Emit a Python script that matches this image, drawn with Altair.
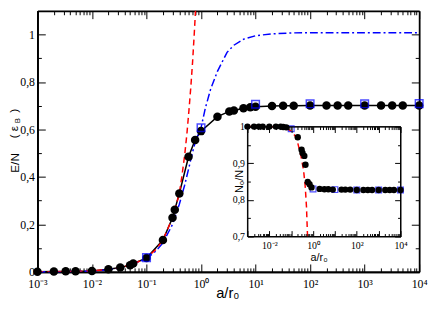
import altair as alt
import pandas as pd

# ---------------- data ----------------
# main panel: black circles (E/N)
e_x = [1e-3, 2e-3, 3.3e-3, 5e-3, 1e-2, 2e-2, 3.3e-2, 5e-2, 5.7e-2, 0.1, 0.2, 0.3, 0.33, 0.4,
       0.59, 0.78, 1.0, 2.0, 3.3, 4.0, 6.0, 8.0, 10, 20, 32, 50, 100, 200, 320, 500,
       1000, 2000, 3200, 5000, 10000]
e_y = [0.0, 0.001, 0.002, 0.002, 0.004, 0.011, 0.018, 0.028, 0.035, 0.058, 0.134, 0.228, 0.262, 0.330,
       0.485, 0.556, 0.593, 0.654, 0.676, 0.680, 0.689, 0.694, 0.696, 0.699, 0.700, 0.700, 0.701, 0.701,
       0.701, 0.701, 0.701, 0.701, 0.701, 0.701, 0.701]
# main panel: blue open squares
sq_x = [0.1, 1.0, 10, 100, 1000, 10000]
sq_y = [0.060, 0.607, 0.706, 0.708, 0.708, 0.709]
# main panel: red dashed curve
red_x = [1e-3, 3e-3, 1e-2, 2e-2, 3e-2, 5e-2, 0.07, 0.1, 0.15, 0.2, 0.3, 0.4, 0.45, 0.5, 0.55,
         0.6, 0.65, 0.7, 0.75, 0.8, 0.85]
red_y = [0.0, 0.001, 0.004, 0.010, 0.016, 0.029, 0.042, 0.060, 0.095, 0.134, 0.228, 0.330, 0.410,
         0.490, 0.580, 0.680, 0.780, 0.885, 1.000, 1.120, 1.250]
# main panel: blue dash-dot curve
blu_x = [1e-3, 3e-3, 1e-2, 2e-2, 3e-2, 5e-2, 0.1, 0.15, 0.2, 0.3, 0.4, 0.5, 0.6, 0.7, 0.8, 1.0,
         1.2, 1.5, 2, 3, 4, 6, 10, 20, 50, 100, 1000, 10000]
blu_y = [0.0, 0.001, 0.003, 0.009, 0.015, 0.027, 0.056, 0.088, 0.122, 0.200, 0.285, 0.365, 0.440,
         0.505, 0.555, 0.607, 0.690, 0.770, 0.845, 0.925, 0.955, 0.980, 0.995, 1.003, 1.007, 1.008,
         1.008, 1.008]

# inset: black circles (N0/N)
n_x = [1e-3, 2e-3, 3.3e-3, 5e-3, 1e-2, 2e-2, 3.3e-2, 4.3e-2, 6e-2, 0.2, 0.3, 0.33, 0.4, 0.45,
       0.57, 0.69, 0.85, 2.0, 3.3, 5.0, 8.0, 20, 30, 50, 100, 200, 320, 500, 1000, 2000, 3200,
       5000, 10000]
n_y = [1.0, 1.0, 1.0, 1.0, 1.0, 1.0, 1.0, 0.999, 0.998, 0.971, 0.937, 0.928, 0.920, 0.896,
       0.849, 0.843, 0.834, 0.830, 0.829, 0.829, 0.828, 0.828, 0.828, 0.828, 0.827, 0.827, 0.827,
       0.827, 0.827, 0.827, 0.827, 0.827, 0.827]
# inset: blue squares
nsq_x = [0.1, 1.0, 10, 100, 1000, 10000]
nsq_y = [0.994, 0.830, 0.828, 0.827, 0.827, 0.827]
# inset: red dashed curve
nred_x = [1e-3, 1e-2, 3e-2, 5e-2, 0.1, 0.15, 0.2, 0.28, 0.37, 0.44, 0.5, 0.56]
nred_y = [1.0, 1.0, 0.999, 0.997, 0.988, 0.975, 0.955, 0.920, 0.880, 0.836, 0.782, 0.700]

# axis ticks / labels
dec_labels = ['10\u207b\u00b3', '10\u207b\u00b2', '10\u207b\u00b9', '10\u2070',
              '10\u00b9', '10\u00b2', '10\u00b3', '10\u2074']
x_major = [1e-3, 1e-2, 1e-1, 1.0, 10.0, 100.0, 1000.0, 10000.0]
x_minor = [m * d for d in x_major[:-1] for m in range(2, 10)]
x_ticks = x_major + x_minor
y_labels = [0.0, 0.2, 0.4, 0.6, 0.8, 1.0]
y_ticks = [round(0.1 * i, 1) for i in range(0, 11)]
in_x_labels = [1e-2, 1.0, 100.0, 10000.0]
in_y_labels = [0.7, 0.8, 0.9, 1.0]
in_y_ticks = [round(0.7 + 0.05 * i, 2) for i in range(0, 7)]

# ---------------- layout ----------------
W, H = 389, 266
IX0, IX1 = 214, 370       # inset horizontal extent inside the main plot
IYB, IYT = 230, 118       # inset bottom / top

def msx():
    return alt.Scale(type="log", domain=[1e-3, 1e4], range=[0, W], nice=False)

def msy():
    return alt.Scale(domain=[0, 1.1], range=[H, 0], nice=False, zero=False)

def isx():
    return alt.Scale(type="log", domain=[1e-3, 1e4], range=[IX0, IX1], nice=False)

def isy():
    return alt.Scale(domain=[0.7, 1.0], range=[IYB, IYT], nice=False, zero=False)

LOGTEST = "abs(log(datum.value)/LN10 - round(log(datum.value)/LN10)) < 0.01"

def tsize(test, big, small):
    return {"condition": {"test": test, "value": big}, "value": small}

main_df = pd.DataFrame({"x": e_x, "y": e_y})
sq_df = pd.DataFrame({"x": sq_x, "y": sq_y})
red_df = pd.DataFrame({"x": red_x, "y": red_y})
blu_df = pd.DataFrame({"x": blu_x, "y": blu_y})
n_df = pd.DataFrame({"x": n_x, "y": n_y})
nsq_df = pd.DataFrame({"x": nsq_x, "y": nsq_y})
nred_df = pd.DataFrame({"x": nred_x, "y": nred_y})
box_df = pd.DataFrame({"x": [1e-3], "x2": [1e4], "y": [0.7], "y2": [1.0]})
dummy = pd.DataFrame({"x": [1.0], "y": [0.8]})

def enc(ch, xs, ys):
    return ch.encode(x=alt.X("x:Q", scale=xs, axis=None),
                     y=alt.Y("y:Q", scale=ys, axis=None))

layers = []
# main data
layers.append(enc(alt.Chart(main_df).mark_line(color="black", strokeWidth=1.5), msx(), msy()))
layers.append(enc(alt.Chart(blu_df).mark_line(color="#0000ff", strokeWidth=1.5,
                                              strokeDash=[8, 3, 2, 3]), msx(), msy()))
layers.append(enc(alt.Chart(red_df).mark_line(color="#ff0000", strokeWidth=1.5,
                                              strokeDash=[6, 4], clip=True), msx(), msy()))
layers.append(enc(alt.Chart(main_df).mark_circle(color="black", size=75, opacity=1), msx(), msy()))
layers.append(enc(alt.Chart(sq_df).mark_point(shape="square", filled=False, color="#0000ff",
                                              size=60, strokeWidth=1.5), msx(), msy()))
# inset background + data
layers.append(alt.Chart(box_df).mark_rect(fill="white", stroke="black", strokeWidth=1).encode(
    x=alt.X("x:Q", scale=isx(), axis=None), x2="x2:Q",
    y=alt.Y("y:Q", scale=isy(), axis=None), y2="y2:Q"))
layers.append(enc(alt.Chart(nred_df).mark_line(color="#ff0000", strokeWidth=1.5,
                                               strokeDash=[6, 4]), isx(), isy()))
layers.append(enc(alt.Chart(nsq_df).mark_point(shape="square", filled=False, color="#0000ff",
                                               size=35, strokeWidth=1.2), isx(), isy()))
layers.append(enc(alt.Chart(n_df).mark_circle(color="black", size=42, opacity=1), isx(), isy()))

def helper(xaxis, yaxis, xs, ys):
    return alt.Chart(dummy).mark_point(opacity=0).encode(
        x=alt.X("x:Q", scale=xs, axis=xaxis),
        y=alt.Y("y:Q", scale=ys, axis=yaxis))

XLAB = "[" + ",".join("'" + s + "'" for s in dec_labels) + "][round(log(datum.value)/LN10)+3]"
YLAB = "datum.value == 0 ? '0' : datum.value == 1 ? '1' : replace(format(datum.value, '.1f'), '.', ',')"

common_lab = dict(ticks=False, grid=False, labelColor="black", labelFont="Liberation Serif",
                  labelOverlap=False, labelFlush=False, domainColor="black")
common_tick = dict(labels=False, grid=False, ticks=True, tickColor="black", tickWidth=1,
                   domain=True, domainColor="black", title=None)

# main axes
layers.append(helper(
    alt.Axis(orient="bottom", values=x_major, labelExpr=XLAB, labelFontSize=12, labelPadding=7,
             domain=True, domainWidth=1.8, title=None, **common_lab),
    alt.Axis(orient="left", values=y_labels, labelExpr=YLAB, labelFontSize=12, labelPadding=3,
             domain=True, domainWidth=1.8, title=None, **common_lab),
    msx(), msy()))
layers.append(helper(
    alt.Axis(orient="top", offset=-H, values=x_ticks, tickSize=tsize(LOGTEST, 8, 4),
             domainWidth=1.8, **common_tick),
    alt.Axis(orient="right", offset=-W, values=y_ticks,
             tickSize=tsize("abs(datum.value*5 - round(datum.value*5)) < 0.01", 8, 4),
             domainWidth=1.8, **common_tick),
    msx(), msy()))
layers.append(helper(
    alt.Axis(orient="bottom", offset=-H, values=x_ticks, tickSize=tsize(LOGTEST, 8, 4),
             domainWidth=1.8, **common_tick),
    alt.Axis(orient="left", offset=-W, values=y_ticks,
             tickSize=tsize("abs(datum.value*5 - round(datum.value*5)) < 0.01", 8, 4),
             domainWidth=1.8, **common_tick),
    msx(), msy()))

# inset axes
layers.append(helper(
    alt.Axis(orient="bottom", offset=-(H - IYB), values=in_x_labels, labelExpr=XLAB,
             labelFontSize=10, labelPadding=4, domain=False, title=None, zindex=1, **common_lab),
    alt.Axis(orient="left", offset=-IX0, values=in_y_labels, labelExpr=YLAB,
             labelFontSize=10, labelPadding=3, domain=False, title=None, zindex=1, **common_lab),
    isx(), isy()))
layers.append(helper(
    alt.Axis(orient="top", offset=-IYB, values=x_ticks, tickSize=tsize(LOGTEST, 6, 3),
             domainWidth=1, zindex=1, **common_tick),
    alt.Axis(orient="right", offset=-(W - IX0), values=in_y_ticks,
             tickSize=tsize("abs(datum.value*10 - round(datum.value*10)) < 0.01", 6, 3),
             domainWidth=1, zindex=1, **common_tick),
    isx(), isy()))
layers.append(helper(
    alt.Axis(orient="bottom", offset=-(H - IYT), values=x_ticks, tickSize=tsize(LOGTEST, 6, 3),
             domainWidth=1, zindex=1, **common_tick),
    alt.Axis(orient="left", offset=-IX1, values=in_y_ticks,
             tickSize=tsize("abs(datum.value*10 - round(datum.value*10)) < 0.01", 6, 3),
             domainWidth=1, zindex=1, **common_tick),
    isx(), isy()))

# titles as text
def txt(s, x, y, size, angle=0, font="Liberation Sans"):
    return alt.Chart(dummy).mark_text(text=s, font=font, fontSize=size, angle=angle,
                                      align="center", baseline="middle", color="black").encode(
        x=alt.value(x), y=alt.value(y))

layers.append(txt("a/r\u2080", 194, 288, 15))
layers.append(txt("E/N", -23, 155, 12, angle=270))
layers.append(txt("(", -23.5, 128, 12, angle=270))
layers.append(txt("\u03b5", -23.5, 120, 12, angle=270))
layers.append(txt("B", -20, 112, 8, angle=270))
layers.append(txt(")", -23.5, 102, 12, angle=270))
layers.append(txt("a/r\u2080", 287, 252, 11))
layers.append(txt("N\u2080/N", 206, 174, 11, angle=270))

chart = alt.layer(*layers).resolve_scale(x="independent", y="independent").properties(
    width=W, height=H,
    autosize=alt.AutoSizeParams(type="none"),
    padding={"left": 30, "top": 0, "right": 9, "bottom": 35},
).configure_view(stroke=None).configure(background="white")

chart.save("out.html", embed_options={"renderer": "svg", "actions": False})
